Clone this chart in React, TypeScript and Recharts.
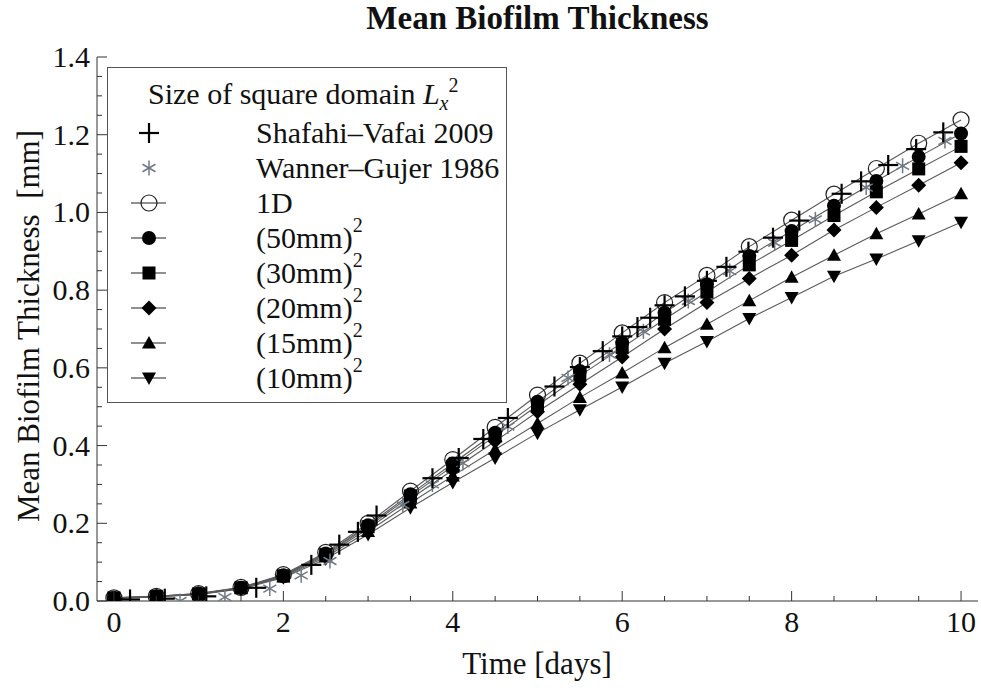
import React from 'react';
import { ComposedChart, Line, Scatter, XAxis, YAxis, Label } from 'recharts';

// simulated mean thickness [mm], sampled every half day
const TIMES = [0, 0.5, 1, 1.5, 2, 2.5, 3, 3.5, 4, 4.5, 5, 5.5, 6, 6.5, 7, 7.5, 8, 8.5, 9, 9.5, 10];
const ONE_D = [0.008, 0.012, 0.019, 0.035, 0.068, 0.125, 0.2, 0.283, 0.364, 0.447, 0.53, 0.612, 0.69, 0.768, 0.838, 0.912, 0.98, 1.047, 1.113, 1.178, 1.238];
const L50 = [0.008, 0.012, 0.019, 0.034, 0.066, 0.122, 0.195, 0.275, 0.354, 0.433, 0.513, 0.592, 0.665, 0.742, 0.815, 0.888, 0.952, 1.017, 1.081, 1.143, 1.203];
const L30 = [0.008, 0.012, 0.018, 0.034, 0.065, 0.12, 0.191, 0.27, 0.347, 0.425, 0.503, 0.58, 0.652, 0.725, 0.795, 0.865, 0.928, 0.992, 1.053, 1.112, 1.17];
const L20 = [0.008, 0.011, 0.018, 0.033, 0.064, 0.117, 0.186, 0.263, 0.337, 0.411, 0.487, 0.558, 0.628, 0.7, 0.768, 0.83, 0.89, 0.955, 1.013, 1.07, 1.128];
const L15 = [0.007, 0.011, 0.017, 0.032, 0.062, 0.113, 0.179, 0.252, 0.322, 0.39, 0.457, 0.524, 0.587, 0.652, 0.712, 0.773, 0.833, 0.89, 0.945, 0.996, 1.048];
const L10 = [0.007, 0.011, 0.017, 0.031, 0.06, 0.108, 0.171, 0.24, 0.305, 0.368, 0.432, 0.492, 0.551, 0.612, 0.668, 0.727, 0.781, 0.836, 0.88, 0.927, 0.975];

// reference data points
const SV_T = [0.19, 0.6, 1.09, 1.68, 2.33, 2.66, 2.88, 3.1, 3.76, 4.07, 4.36, 4.65, 5.2, 5.5, 5.77, 6.0, 6.18, 6.33, 6.5, 6.74, 7.0, 7.23, 7.49, 7.78, 8.09, 8.59, 8.82, 9.14, 9.47, 9.79];
const SV_V = [0.004, 0.006, 0.012, 0.034, 0.093, 0.145, 0.178, 0.22, 0.316, 0.368, 0.417, 0.471, 0.552, 0.602, 0.643, 0.681, 0.705, 0.729, 0.761, 0.784, 0.824, 0.86, 0.899, 0.935, 0.979, 1.048, 1.08, 1.122, 1.163, 1.206];
const WG_T = [0.78, 1.31, 1.84, 2.21, 2.55, 3.41, 3.76, 4.12, 4.65, 5.36, 5.85, 6.25, 6.78, 7.27, 7.8, 8.28, 8.88, 9.31, 9.81];
const WG_V = [0.0, 0.01, 0.032, 0.066, 0.103, 0.247, 0.3, 0.355, 0.449, 0.574, 0.634, 0.694, 0.772, 0.849, 0.922, 0.982, 1.064, 1.12, 1.184];

const X_TICKS = [0, 0.5, 1, 1.5, 2, 2.5, 3, 3.5, 4, 4.5, 5, 5.5, 6, 6.5, 7, 7.5, 8, 8.5, 9, 9.5, 10];
const Y_TICKS = [0, 0.05, 0.1, 0.15, 0.2, 0.25, 0.3, 0.35, 0.4, 0.45, 0.5, 0.55, 0.6, 0.65, 0.7, 0.75, 0.8, 0.85, 0.9, 0.95, 1, 1.05, 1.1, 1.15, 1.2, 1.25, 1.3, 1.35, 1.4];
const X_LABELS = [0, 2, 4, 6, 8, 10];
const Y_LABELS = [0, 0.2, 0.4, 0.6, 0.8, 1.0, 1.2, 1.4];

const FONT = '"Liberation Serif", "Times New Roman", serif';
const FRAME = '#333';
const LINE = '#5a5a5a';
const STAR = '#707884';

type Shape = 'open' | 'circle' | 'square' | 'diamond' | 'up' | 'down' | 'plus' | 'star';

function Marker({ shape, cx, cy }: { shape: Shape; cx: number; cy: number }) {
  switch (shape) {
    case 'open':
      return <circle cx={cx} cy={cy} r={8} fill="none" stroke="#222" strokeWidth={1.2} />;
    case 'circle':
      return <circle cx={cx} cy={cy} r={7} fill="#000" />;
    case 'square':
      return <rect x={cx - 6.5} y={cy - 6.5} width={13} height={13} fill="#000" />;
    case 'diamond':
      return <path d={`M${cx},${cy - 7.5}L${cx + 7.5},${cy}L${cx},${cy + 7.5}L${cx - 7.5},${cy}Z`} fill="#000" />;
    case 'up':
      return <path d={`M${cx},${cy - 7}L${cx + 7},${cy + 5.5}L${cx - 7},${cy + 5.5}Z`} fill="#000" />;
    case 'down':
      return <path d={`M${cx},${cy + 7}L${cx + 7},${cy - 5.5}L${cx - 7},${cy - 5.5}Z`} fill="#000" />;
    case 'plus':
      return (
        <g stroke="#000" strokeWidth={2.2}>
          <line x1={cx - 10} x2={cx + 10} y1={cy} y2={cy} />
          <line x1={cx} x2={cx} y1={cy - 10} y2={cy + 10} />
        </g>
      );
    case 'star':
      return (
        <g stroke={STAR} strokeWidth={1.5}>
          <line x1={cx} x2={cx} y1={cy - 7.5} y2={cy + 7.5} />
          <line x1={cx - 6.5} x2={cx + 6.5} y1={cy - 3.75} y2={cy + 3.75} />
          <line x1={cx - 6.5} x2={cx + 6.5} y1={cy + 3.75} y2={cy - 3.75} />
        </g>
      );
  }
  return null;
}

const toRows = (vals: number[]) => TIMES.map((t, i) => ({ t, v: vals[i] }));
const svData = SV_T.map((t, i) => ({ t, v: SV_V[i] }));
const wgData = WG_T.map((t, i) => ({ t, v: WG_V[i] }));

const SERIES: { name: string; shape: Shape; vals: number[] }[] = [
  { name: '1D', shape: 'open', vals: ONE_D },
  { name: '(50mm)', shape: 'circle', vals: L50 },
  { name: '(30mm)', shape: 'square', vals: L30 },
  { name: '(20mm)', shape: 'diamond', vals: L20 },
  { name: '(15mm)', shape: 'up', vals: L15 },
  { name: '(10mm)', shape: 'down', vals: L10 },
];

const isOn = (v: number, list: number[]) => list.some((l) => Math.abs(l - v) < 1e-6);

function BottomTick(props: any) {
  const { x, y, payload } = props;
  const major = isOn(payload.value, X_LABELS);
  return (
    <g>
      <line x1={x} x2={x} y1={y} y2={y - (major ? 10 : 5)} stroke={FRAME} />
      {major && (
        <text x={x} y={y + 31} textAnchor="middle" fontFamily={FONT} fontSize={30} fill="#111">
          {payload.value}
        </text>
      )}
    </g>
  );
}

function TopTick(props: any) {
  const { x, y, payload } = props;
  const major = isOn(payload.value, X_LABELS);
  return <line x1={x} x2={x} y1={y} y2={y + (major ? 10 : 5)} stroke={FRAME} />;
}

function LeftTick(props: any) {
  const { x, y, payload } = props;
  const major = isOn(payload.value, Y_LABELS);
  return (
    <g>
      <line x1={x} x2={x + (major ? 10 : 5)} y1={y} y2={y} stroke={FRAME} />
      {major && (
        <text x={x - 7} y={y + 10} textAnchor="end" fontFamily={FONT} fontSize={30} fill="#111">
          {payload.value.toFixed(1)}
        </text>
      )}
    </g>
  );
}

function RightTick(props: any) {
  const { x, y, payload } = props;
  const major = isOn(payload.value, Y_LABELS);
  return <line x1={x} x2={x - (major ? 10 : 5)} y1={y} y2={y} stroke={FRAME} />;
}

function ChartLegend() {
  const rows: { label: string; shape: Shape; line: boolean; sup: boolean }[] = [
    { label: 'Shafahi\u2013Vafai 2009', shape: 'plus', line: false, sup: false },
    { label: 'Wanner\u2013Gujer 1986', shape: 'star', line: false, sup: false },
    ...SERIES.map((s) => ({ label: s.name, shape: s.shape, line: true, sup: s.name !== '1D' })),
  ];
  return (
    <div
      style={{
        position: 'absolute',
        left: 107,
        top: 67,
        width: 398,
        height: 334,
        border: '1px solid #555',
        background: '#fff',
      }}
    >
      <svg width={398} height={334} style={{ display: 'block' }}>
        <text x={40} y={36} fontFamily={FONT} fontSize={30} fill="#111">
          Size of square domain <tspan fontStyle="italic">L</tspan>
          <tspan fontStyle="italic" fontSize={20} dy={6}>x</tspan>
          <tspan fontSize={20} dy={-18}>2</tspan>
        </text>
        {rows.map((r, i) => {
          const cy = 65 + i * 35;
          return (
            <g key={r.label}>
              {r.line && <line x1={23} x2={58} y1={cy} y2={cy} stroke="#222" strokeWidth={1.2} />}
              <Marker shape={r.shape} cx={41} cy={cy} />
              <text x={148} y={cy + 10} fontFamily={FONT} fontSize={30} fill="#111">
                {r.label}
                {r.sup && (
                  <tspan fontSize={20} dy={-16}>
                    2
                  </tspan>
                )}
              </text>
            </g>
          );
        })}
      </svg>
    </div>
  );
}

export default function App() {
  return (
    <div style={{ position: 'absolute', left: 0, top: 0, width: 981, height: 692, background: '#fff' }}>
      <div
        style={{
          position: 'absolute',
          left: 0,
          width: 981,
          top: 0,
          textAlign: 'center',
          paddingLeft: 94,
          boxSizing: 'border-box',
          fontFamily: FONT,
          fontWeight: 'bold',
          fontSize: 33,
          color: '#111',
        }}
      >
        Mean Biofilm Thickness
      </div>
      <ComposedChart width={981} height={692} margin={{ top: 57, right: 3, bottom: 0, left: 0 }}>
        <XAxis
          xAxisId="b"
          dataKey="t"
          type="number"
          domain={[-0.2, 10.2]}
          ticks={X_TICKS}
          interval={0}
          height={91}
          tickSize={0}
          tickMargin={0}
          tick={<BottomTick />}
          tickLine={false}
          axisLine={{ stroke: FRAME }}
          allowDataOverflow
        >
          <Label
            content={() => (
              <text x={537} y={674} textAnchor="middle" fontFamily={FONT} fontSize={31} fill="#111">
                Time [days]
              </text>
            )}
          />
        </XAxis>
        <XAxis
          xAxisId="t"
          orientation="top"
          dataKey="t"
          type="number"
          domain={[-0.2, 10.2]}
          ticks={X_TICKS}
          interval={0}
          height={0}
          tickSize={0}
          tickMargin={0}
          tick={<TopTick />}
          tickLine={false}
          axisLine={{ stroke: FRAME }}
          allowDataOverflow
        />
        <YAxis
          yAxisId="l"
          type="number"
          domain={[0, 1.4]}
          ticks={Y_TICKS}
          interval={0}
          width={97}
          tickSize={0}
          tickMargin={0}
          tick={<LeftTick />}
          tickLine={false}
          axisLine={{ stroke: FRAME }}
          allowDataOverflow
        >
          <Label
            content={() => (
              <text
                transform="translate(28,326) rotate(-90)"
                textAnchor="middle"
                dominantBaseline="central"
                fontFamily={FONT}
                fontSize={31}
                fill="#111"
              >
                {'Mean Biofilm Thickness\u00a0\u00a0[mm]'}
              </text>
            )}
          />
        </YAxis>
        <YAxis
          yAxisId="r"
          orientation="right"
          type="number"
          domain={[0, 1.4]}
          ticks={Y_TICKS}
          interval={0}
          width={0}
          tickSize={0}
          tickMargin={0}
          tick={<RightTick />}
          tickLine={false}
          axisLine={{ stroke: FRAME }}
          allowDataOverflow
        />
        {SERIES.map((s) => (
          <Line
            key={s.name}
            xAxisId="b"
            yAxisId="l"
            data={toRows(s.vals)}
            dataKey="v"
            type="linear"
            stroke={LINE}
            strokeWidth={1.1}
            isAnimationActive={false}
            dot={(p: any) => <Marker key={`${s.name}-${p.index}`} shape={s.shape} cx={p.cx} cy={p.cy} />}
            activeDot={false}
          />
        ))}
        <Scatter
          xAxisId="b"
          yAxisId="l"
          data={wgData}
          dataKey="v"
          isAnimationActive={false}
          shape={(p: any) => <Marker shape="star" cx={p.cx} cy={p.cy} />}
        />
        <Scatter
          xAxisId="b"
          yAxisId="l"
          data={svData}
          dataKey="v"
          isAnimationActive={false}
          shape={(p: any) => <Marker shape="plus" cx={p.cx} cy={p.cy} />}
        />
      </ComposedChart>
      <ChartLegend />
    </div>
  );
}
